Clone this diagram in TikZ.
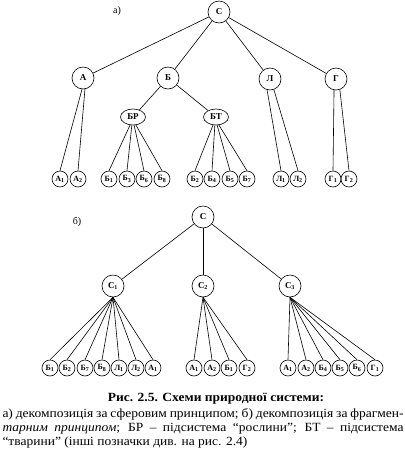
\documentclass[tikz,border=0pt]{standalone}
\usepackage{fontspec}
\setmainfont{Liberation Serif}
\newfontfamily\capfont[FakeStretch=1.08]{Liberation Serif}
\usetikzlibrary{positioning}
\usetikzlibrary{shapes}
\tikzset{
    sys/.style={draw, circle, minimum size=22pt, inner sep=0pt, font=\bfseries\fontsize{9}{9}\selectfont},
    subsys/.style={draw, ellipse, minimum width=25pt, minimum height=16pt, inner sep=0pt, font=\bfseries\fontsize{9}{9}\selectfont},
    leaf/.style={draw, circle, minimum size=16pt, inner sep=0pt, font=\bfseries\fontsize{8}{8}\selectfont},
    tag/.style={font=\fontsize{10}{10}\selectfont}
}

\begin{document}
\begin{tikzpicture}[x=1pt, y=-1pt, line width=0.6pt]
        \useasboundingbox (0,0) rectangle (405,459);
        % a) sphere decomposition
        \node[tag] (ta) at (117,11) {а)};
        \node[sys] (S) at (219,12) {С};
        \node[sys] (A) at (83,78) {А};
        \node[sys] (B) at (168,78) {Б};
        \node[sys] (L) at (270,79) {Л};
        \node[sys] (G) at (336,79) {Г};
        \node[subsys] (BR) at (133,117) {БР};
        \node[subsys] (BT) at (216,117) {БТ};
        \foreach \n/\x/\l/\s in {a1/60/А/1, a2/78/А/2,
            br1/109/Б/1, br3/127/Б/3, br6/144/Б/6, br8/162/Б/8,
            bt2/195/Б/2, bt4/212/Б/4, bt5/230/Б/5, bt7/247/Б/7,
            l1/281/Л/1, l2/298/Л/2, g1/333/Г/1, g2/349/Г/2}
            \node[leaf] (\n) at (\x,179) {\l\textsubscript{\s}};
        \foreach \c in {A,B,L,G} \draw (S) -- (\c);
        \draw (B) -- (BR);
        \draw (B) -- (BT);
        \draw (A.265) -- (a1.north);
        \draw (A.280) -- (a2.north);
        \foreach \c/\a in {br1/250, br3/262, br6/278, br8/290} \draw (BR.\a) -- (\c.north);
        \foreach \c/\a in {bt2/250, bt4/262, bt5/278, bt7/290} \draw (BT.\a) -- (\c.north);
        \draw (L.255) -- (l1.north);
        \draw (L.290) -- (l2.north);
        \draw (G.260) -- (g1.north);
        \draw (G.290) -- (g2.north);
        % b) fragment decomposition
        \node[tag] (tb) at (77,222) {б)};
        \node[sys] (S2) at (203,217) {С};
        \node[sys] (C1) at (113,286) {С\textsubscript{1}};
        \node[sys] (C2) at (203,286) {С\textsubscript{2}};
        \node[sys] (C3) at (290,286) {С\textsubscript{3}};
        \foreach \c in {C1,C2,C3} \draw (S2) -- (\c);
        \foreach \n/\x/\l/\s in {b1/50/Б/1, b2/67/Б/2, b7/85/Б/7, b8/102/Б/8, l1/119/Л/1, l2/136/Л/2, a1/153/А/1}{
            \node[leaf] (p\n) at (\x,368) {\l\textsubscript{\s}};
            \draw (C1.south) -- (p\n.north);
        }
        \foreach \n/\x/\l/\s in {a1/194/А/1, a2/212/А/2, b1/229/Б/1, g2/247/Г/2}{
            \node[leaf] (q\n) at (\x,368) {\l\textsubscript{\s}};
            \draw (C2.south) -- (q\n.north);
        }
        \foreach \n/\x/\l/\s in {a1/288/А/1, a2/306/А/2, b4/323/Б/4, b5/340/Б/5, b6/357/Б/6, g1/375/Г/1}{
            \node[leaf] (r\n) at (\x,368) {\l\textsubscript{\s}};
            \draw (C3.south) -- (r\n.north);
        }
        % caption
        \node[font=\capfont\bfseries\fontsize{12.5}{14}\selectfont] (title) at (216,399) {Рис. 2.5. Схеми природної системи:};
        \node[anchor=north, text width=401pt, align=justify, inner sep=0pt, font=\capfont\fontsize{12.5}{14}\selectfont] (cap) at (203,408)
            {а) декомпозиція за сферовим принципом; б) декомпозиція за фрагмен-\linebreak
             \textit{тарним принципом}; БР – підсистема “рослини”; БТ – підсистема\linebreak
             “тварини” (інші позначки див. на рис. 2.4)};
      \end{tikzpicture}
\end{document}
